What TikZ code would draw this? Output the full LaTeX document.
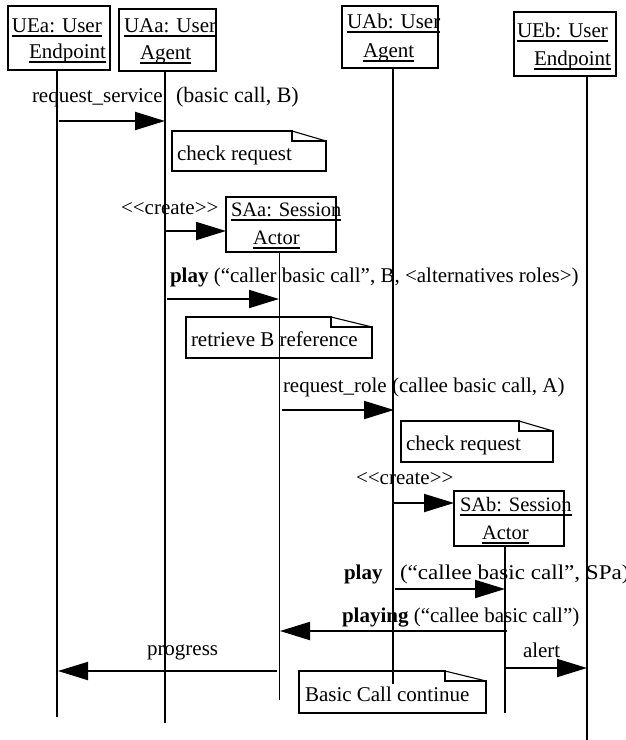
\documentclass[tikz,border=0pt]{standalone}
\usepackage{fontspec}
\setmainfont{Liberation Serif}
\newfontfamily\widefont[FakeStretch=1.10]{Liberation Serif}
\usetikzlibrary{arrows.meta}
\newcommand{\ultext}[5]{% name, x, y, size, text
  \node[font=\fontsize{#4}{#4}\selectfont] (#1) at (#2,#3) {#5};
  \draw[ulline] ([yshift=-4pt]#1.base west) -- ([yshift=-4pt]#1.base east);}
\newcommand{\notepath}[6]{% l,t,r,b,fx,fy
  \draw[noteline] (#5,#2) -- (#1,#2) -- (#1,#4) -- (#3,#4) -- (#3,#6) -- (#5,#6) -- cycle;
  \draw[foldline] (#5,#2) -- (#3,#6);}
\begin{document}
\begin{tikzpicture}[x=1pt,y=-1pt,
  every node/.style={font=\fontsize{21}{25}\selectfont, inner sep=0pt, outer sep=0pt, anchor=base west},
  hdr/.style={draw, line width=2.2pt, anchor=north west},
  life/.style={line width=1.8pt},
  thinlife/.style={line width=1pt},
  msg/.style={line width=2pt, -{Triangle[length=30pt,width=18pt]}},
  noteline/.style={line width=1.9pt, line join=miter},
  foldline/.style={line width=1.1pt},
  ulline/.style={line width=1.2pt}
]
\useasboundingbox (0,0) rectangle (626,740);

% header boxes
\node[hdr, minimum width=102pt, minimum height=64pt] (UEa) at (8,6) {};
\node[hdr, minimum width=97pt, minimum height=62pt] (UAa) at (119,9) {};
\node[hdr, minimum width=96pt, minimum height=62pt] (UAb) at (342,6) {};
\node[hdr, minimum width=102pt, minimum height=64pt] (UEb) at (514,12) {};
\node[hdr, minimum width=110pt, minimum height=55pt] (SAa) at (226,197) {};
\node[hdr, minimum width=110pt, minimum height=55pt] (SAb) at (454,491) {};

\ultext{UEa1}{12}{32}{21}{UEa: User}
\ultext{UEa2}{29}{58}{21}{Endpoint}
\ultext{UAa1}{124}{32}{21}{UAa: User}
\ultext{UAa2}{140}{59}{21}{Agent}
\ultext{UAb1}{347}{28}{21}{UAb: User}
\ultext{UAb2}{363}{57}{21}{Agent}
\ultext{UEb1}{517}{37}{21}{UEb: User}
\ultext{UEb2}{534}{65}{21}{Endpoint}
\ultext{SAa1}{231}{216}{20.5}{SAa: Session}
\ultext{SAa2}{253}{244}{20.5}{Actor}
\ultext{SAb1}{460}{511}{20.5}{SAb: Session}
\ultext{SAb2}{482}{539}{20.5}{Actor}

% lifelines
\coordinate (UEaT) at (57,70);   \coordinate (UEaB) at (57,717);
\coordinate (UAaT) at (165,71);  \coordinate (UAaB) at (165,723);
\coordinate (UAbT) at (393,68);  \coordinate (UAbB) at (393,684);
\coordinate (UEbT) at (587,76);  \coordinate (UEbB) at (587,740);
\coordinate (SAaT) at (279,252); \coordinate (SAaB) at (279,700);
\coordinate (SAbT) at (505,546); \coordinate (SAbB) at (505,713);
\draw[life] (UEaT) -- (UEaB);
\draw[life] (UAaT) -- (UAaB);
\draw[life] (UAbT) -- (UAbB);
\draw[life] (UEbT) -- (UEbB);
\draw[thinlife] (SAaT) -- (SAaB);
\draw[life] (SAbT) -- (SAbB);

% notes
\notepath{172}{131}{326}{171}{292}{141}
\node (n1) at (177,160) {check request};
\notepath{186}{317}{372}{358}{331}{327}
\node (n2) at (191,346) {retrieve B reference};
\notepath{401}{421}{553}{462}{519}{431}
\node (n3) at (406,450) {check request};
\notepath{299}{671}{486}{713}{445}{681}
\node (n4) at (305,701) {Basic Call continue};

% messages
\draw[msg] (59,121) coordinate (m1a) -- (165,121) coordinate (m1b);
\node (t1) at (32,102) {request\_service};
\node[font=\fontsize{22}{25}\selectfont] (t2) at (176,102) {(basic call, B)};

\draw[msg] (165,231) coordinate (m2a) -- (SAa.west |- m2a);
\node (t3) at (121,214) {<{}<create>{}>};

\draw[msg] (167,299) coordinate (m3a) -- (279,299) coordinate (m3b);
\node (t4) at (170,282) {\textbf{play} (“caller basic call”, B, <alternatives roles>)};

\draw[msg] (282,410) coordinate (m4a) -- (394,410) coordinate (m4b);
\node (t5) at (283,392) {request\_role (callee basic call, A)};

\draw[msg] (393,503) coordinate (m5a) -- (SAb.west |- m5a);
\node (t6) at (356,484) {<{}<create>{}>};

\draw[msg] (395,589) coordinate (m6a) -- (505,589) coordinate (m6b);
\node (t7) at (344,579) {\textbf{play}};
\node[font=\widefont\fontsize{21}{25}\selectfont] (t8) at (400,579) {(“callee basic call”, SPa)};

\draw[msg] (507,631) coordinate (m7a) -- (280,631) coordinate (m7b);
\node (t9) at (342,622) {\textbf{playing} (“callee basic call”)};

\draw[msg] (277,671) coordinate (m8a) -- (58,671) coordinate (m8b);
\node (t10) at (147,655) {progress};

\draw[msg] (506,668) coordinate (m9a) -- (587,668) coordinate (m9b);
\node (t11) at (523,657) {alert};
\end{tikzpicture}
\end{document}
